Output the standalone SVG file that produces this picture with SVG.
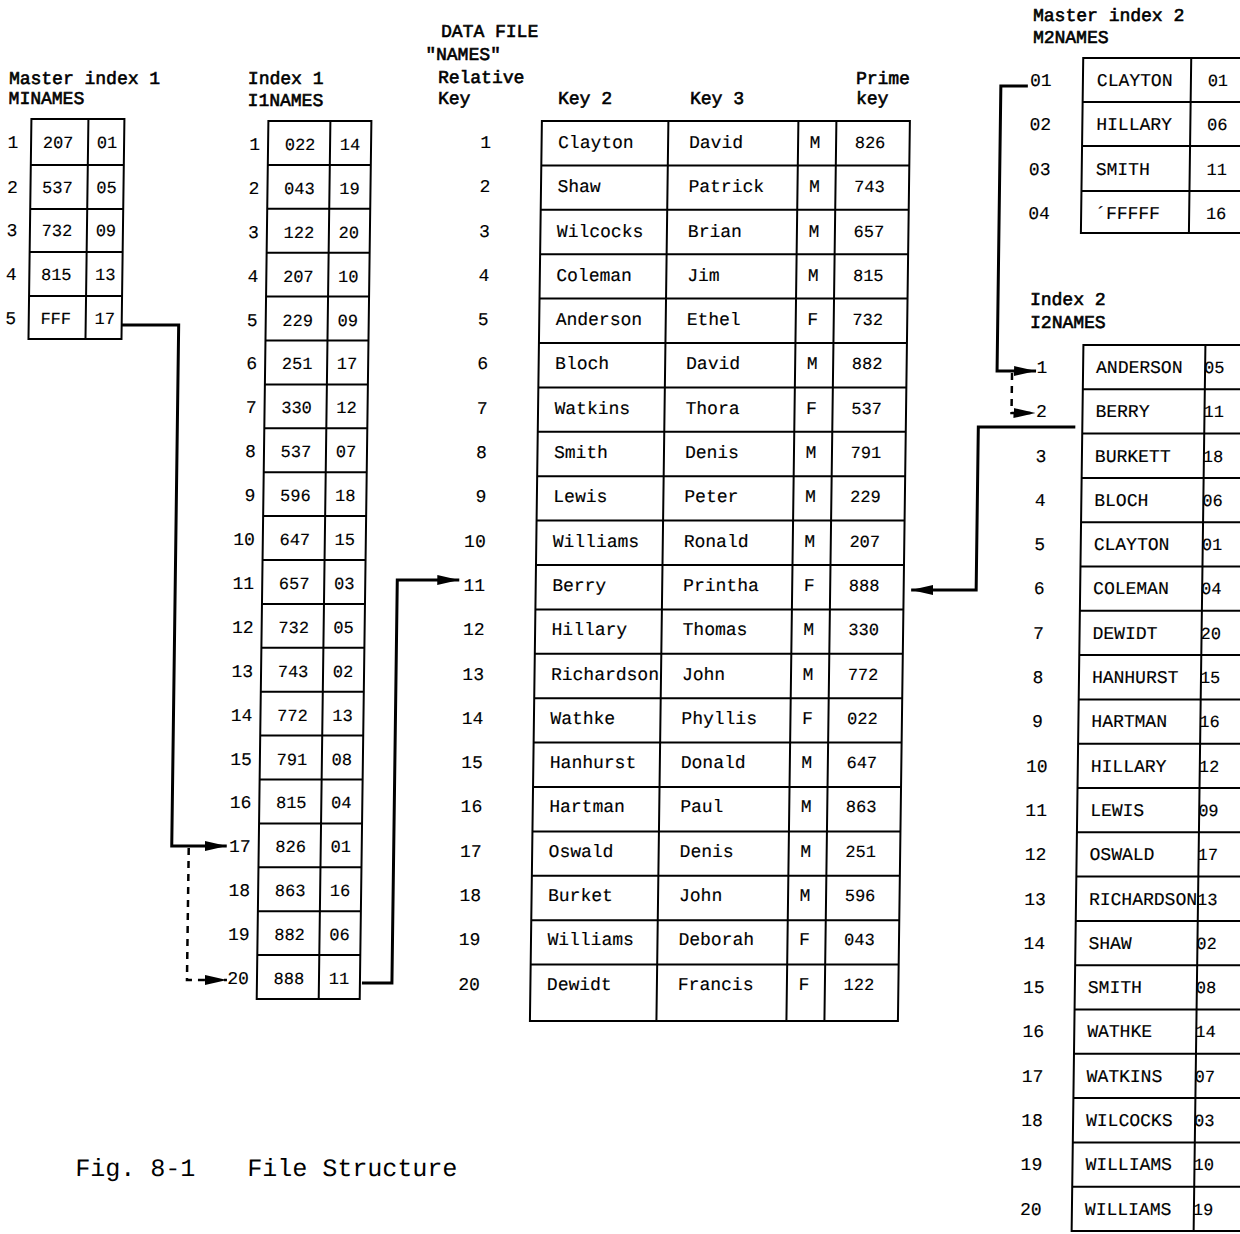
<svg xmlns="http://www.w3.org/2000/svg" width="1240" height="1234" viewBox="0 0 1240 1234">
<style>
text{font-family:"Liberation Mono","Courier New",monospace;font-size:18px;fill:#000;stroke:#000;stroke-width:0.15}
.h{stroke-width:0.6}
.n{font-size:17px}
.c{text-anchor:middle}
.r{text-anchor:end}
.cap{font-size:25px;stroke-width:0}
.box{fill:none;stroke:#000;stroke-width:2}
.conn{fill:none;stroke:#000;stroke-width:3}
.dash{fill:none;stroke:#000;stroke-width:2.5;stroke-dasharray:7 6}
</style>
<defs>
<marker id="ah" viewBox="0 0 22 12" refX="22" refY="6" markerWidth="22" markerHeight="12" markerUnits="userSpaceOnUse" orient="auto">
<path d="M0,1 L22,6 L0,11 z" fill="#000"/>
</marker>
</defs>
<rect width="1240" height="1234" fill="#fff"/>
<g transform="skewX(-0.762)">

<g id="master-index-1">
<text class="h" x="10" y="84">Master index 1</text>
<text class="h" x="10" y="104">MINAMES</text>
<rect class="box" x="33" y="119" width="93" height="220"/>
<path class="box" d="M90,119V339M33,165H126M33,209H126M33,252H126M33,296H126"/>
<text class="c" x="15" y="148">1</text><text class="c n" x="60" y="148">207</text><text class="c n" x="109" y="148">01</text>
<text class="c" x="15" y="193">2</text><text class="c n" x="60" y="193">537</text><text class="c n" x="109" y="193">05</text>
<text class="c" x="15" y="236">3</text><text class="c n" x="60" y="236">732</text><text class="c n" x="109" y="236">09</text>
<text class="c" x="15" y="280">4</text><text class="c n" x="60" y="280">815</text><text class="c n" x="109" y="280">13</text>
<text class="c" x="15" y="324">5</text><text class="c n" x="60" y="324">FFF</text><text class="c n" x="109" y="324">17</text>
</g>

<g id="index-1">
<text class="h" x="249" y="84">Index 1</text>
<text class="h" x="249" y="106">I1NAMES</text>
<rect class="box" x="270" y="121" width="103" height="878"/>
<path class="box" d="M332,121V999M270,164.9H373M270,208.8H373M270,252.7H373M270,296.6H373M270,340.5H373M270,384.4H373M270,428.3H373M270,472.2H373M270,516.1H373M270,560H373M270,603.9H373M270,647.8H373M270,691.7H373M270,735.6H373M270,779.5H373M270,823.4H373M270,867.3H373M270,911.2H373M270,955.1H373"/>
<text class="r" x="262" y="150">1</text><text class="c n" x="302" y="150">022</text><text class="c n" x="352" y="150">14</text>
<text class="r" x="262" y="193.9">2</text><text class="c n" x="302" y="193.9">043</text><text class="c n" x="352" y="193.9">19</text>
<text class="r" x="262" y="237.8">3</text><text class="c n" x="302" y="237.8">122</text><text class="c n" x="352" y="237.8">20</text>
<text class="r" x="262" y="281.7">4</text><text class="c n" x="302" y="281.7">207</text><text class="c n" x="352" y="281.7">10</text>
<text class="r" x="262" y="325.6">5</text><text class="c n" x="302" y="325.6">229</text><text class="c n" x="352" y="325.6">09</text>
<text class="r" x="262" y="369.5">6</text><text class="c n" x="302" y="369.5">251</text><text class="c n" x="352" y="369.5">17</text>
<text class="r" x="262" y="413.4">7</text><text class="c n" x="302" y="413.4">330</text><text class="c n" x="352" y="413.4">12</text>
<text class="r" x="262" y="457.3">8</text><text class="c n" x="302" y="457.3">537</text><text class="c n" x="352" y="457.3">07</text>
<text class="r" x="262" y="501.2">9</text><text class="c n" x="302" y="501.2">596</text><text class="c n" x="352" y="501.2">18</text>
<text class="r" x="262" y="545.1">10</text><text class="c n" x="302" y="545.1">647</text><text class="c n" x="352" y="545.1">15</text>
<text class="r" x="262" y="589">11</text><text class="c n" x="302" y="589">657</text><text class="c n" x="352" y="589">03</text>
<text class="r" x="262" y="632.9">12</text><text class="c n" x="302" y="632.9">732</text><text class="c n" x="352" y="632.9">05</text>
<text class="r" x="262" y="676.8">13</text><text class="c n" x="302" y="676.8">743</text><text class="c n" x="352" y="676.8">02</text>
<text class="r" x="262" y="720.7">14</text><text class="c n" x="302" y="720.7">772</text><text class="c n" x="352" y="720.7">13</text>
<text class="r" x="262" y="764.6">15</text><text class="c n" x="302" y="764.6">791</text><text class="c n" x="352" y="764.6">08</text>
<text class="r" x="262" y="808.5">16</text><text class="c n" x="302" y="808.5">815</text><text class="c n" x="352" y="808.5">04</text>
<text class="r" x="262" y="852.4">17</text><text class="c n" x="302" y="852.4">826</text><text class="c n" x="352" y="852.4">01</text>
<text class="r" x="262" y="896.3">18</text><text class="c n" x="302" y="896.3">863</text><text class="c n" x="352" y="896.3">16</text>
<text class="r" x="262" y="940.2">19</text><text class="c n" x="302" y="940.2">882</text><text class="c n" x="352" y="940.2">06</text>
<text class="r" x="262" y="984.1">20</text><text class="c n" x="302" y="984.1">888</text><text class="c n" x="352" y="984.1">11</text>
</g>

<g id="data-file-names">
<text class="h" x="441.5" y="37">DATA FILE</text>
<text class="h" x="426" y="60">"NAMES"</text>
<text class="h" x="439" y="83">Relative</text>
<text class="h" x="439.4" y="104">Key</text>
<text class="h" x="559.4" y="104">Key 2</text>
<text class="h" x="691.4" y="104">Key 3</text>
<text class="h" x="857" y="84">Prime</text>
<text class="h" x="857.4" y="104">key</text>
<rect class="box" x="543.5" y="121" width="368" height="900"/>
<path class="box" d="M670,121V1021M800,121V1021M838,121V1021M543.5,165.4H911.5M543.5,209.8H911.5M543.5,254.2H911.5M543.5,298.6H911.5M543.5,343H911.5M543.5,387.4H911.5M543.5,431.8H911.5M543.5,476.2H911.5M543.5,520.6H911.5M543.5,565H911.5M543.5,609.4H911.5M543.5,653.8H911.5M543.5,698.2H911.5M543.5,742.6H911.5M543.5,787H911.5M543.5,831.4H911.5M543.5,875.8H911.5M543.5,920.2H911.5M543.5,964.6H911.5"/>
<text class="r" x="493" y="148">1</text><text x="560" y="148">Clayton</text><text x="691" y="148">David</text><text class="c" x="817" y="148">M</text><text class="c n" x="872" y="148">826</text>
<text class="r" x="493" y="192.3">2</text><text x="560" y="192.3">Shaw</text><text x="691" y="192.3">Patrick</text><text class="c" x="817" y="192.3">M</text><text class="c n" x="872" y="192.3">743</text>
<text class="r" x="493" y="236.6">3</text><text x="560" y="236.6">Wilcocks</text><text x="691" y="236.6">Brian</text><text class="c" x="817" y="236.6">M</text><text class="c n" x="872" y="236.6">657</text>
<text class="r" x="493" y="280.9">4</text><text x="560" y="280.9">Coleman</text><text x="691" y="280.9">Jim</text><text class="c" x="817" y="280.9">M</text><text class="c n" x="872" y="280.9">815</text>
<text class="r" x="493" y="325.2">5</text><text x="560" y="325.2">Anderson</text><text x="691" y="325.2">Ethel</text><text class="c" x="817" y="325.2">F</text><text class="c n" x="872" y="325.2">732</text>
<text class="r" x="493" y="369.5">6</text><text x="560" y="369.5">Bloch</text><text x="691" y="369.5">David</text><text class="c" x="817" y="369.5">M</text><text class="c n" x="872" y="369.5">882</text>
<text class="r" x="493" y="413.8">7</text><text x="560" y="413.8">Watkins</text><text x="691" y="413.8">Thora</text><text class="c" x="817" y="413.8">F</text><text class="c n" x="872" y="413.8">537</text>
<text class="r" x="493" y="458.1">8</text><text x="560" y="458.1">Smith</text><text x="691" y="458.1">Denis</text><text class="c" x="817" y="458.1">M</text><text class="c n" x="872" y="458.1">791</text>
<text class="r" x="493" y="502.4">9</text><text x="560" y="502.4">Lewis</text><text x="691" y="502.4">Peter</text><text class="c" x="817" y="502.4">M</text><text class="c n" x="872" y="502.4">229</text>
<text class="r" x="493" y="546.7">10</text><text x="560" y="546.7">Williams</text><text x="691" y="546.7">Ronald</text><text class="c" x="817" y="546.7">M</text><text class="c n" x="872" y="546.7">207</text>
<text class="r" x="493" y="591">11</text><text x="560" y="591">Berry</text><text x="691" y="591">Printha</text><text class="c" x="817" y="591">F</text><text class="c n" x="872" y="591">888</text>
<text class="r" x="493" y="635.3">12</text><text x="560" y="635.3">Hillary</text><text x="691" y="635.3">Thomas</text><text class="c" x="817" y="635.3">M</text><text class="c n" x="872" y="635.3">330</text>
<text class="r" x="493" y="679.6">13</text><text x="560" y="679.6">Richardson</text><text x="691" y="679.6">John</text><text class="c" x="817" y="679.6">M</text><text class="c n" x="872" y="679.6">772</text>
<text class="r" x="493" y="723.9">14</text><text x="560" y="723.9">Wathke</text><text x="691" y="723.9">Phyllis</text><text class="c" x="817" y="723.9">F</text><text class="c n" x="872" y="723.9">022</text>
<text class="r" x="493" y="768.2">15</text><text x="560" y="768.2">Hanhurst</text><text x="691" y="768.2">Donald</text><text class="c" x="817" y="768.2">M</text><text class="c n" x="872" y="768.2">647</text>
<text class="r" x="493" y="812.5">16</text><text x="560" y="812.5">Hartman</text><text x="691" y="812.5">Paul</text><text class="c" x="817" y="812.5">M</text><text class="c n" x="872" y="812.5">863</text>
<text class="r" x="493" y="856.8">17</text><text x="560" y="856.8">Oswald</text><text x="691" y="856.8">Denis</text><text class="c" x="817" y="856.8">M</text><text class="c n" x="872" y="856.8">251</text>
<text class="r" x="493" y="901.1">18</text><text x="560" y="901.1">Burket</text><text x="691" y="901.1">John</text><text class="c" x="817" y="901.1">M</text><text class="c n" x="872" y="901.1">596</text>
<text class="r" x="493" y="945.4">19</text><text x="560" y="945.4">Williams</text><text x="691" y="945.4">Deborah</text><text class="c" x="817" y="945.4">F</text><text class="c n" x="872" y="945.4">043</text>
<text class="r" x="493" y="989.7">20</text><text x="560" y="989.7">Dewidt</text><text x="691" y="989.7">Francis</text><text class="c" x="817" y="989.7">F</text><text class="c n" x="872" y="989.7">122</text>
</g>

<g id="master-index-2">
<text class="h" x="1033.3" y="21">Master index 2</text>
<text class="h" x="1033.5" y="43">M2NAMES</text>
<rect class="box" x="1084" y="58" width="180" height="175"/>
<path class="box" d="M1192,58V233M1084,102H1264M1084,146H1264M1084,191H1264"/>
<text class="c" x="1042" y="86">01</text><text x="1098" y="86">CLAYTON</text><text class="c n" x="1219" y="86">01</text>
<text class="c" x="1042" y="130">02</text><text x="1098" y="130">HILLARY</text><text class="c n" x="1219" y="130">06</text>
<text class="c" x="1042" y="175">03</text><text x="1098" y="175">SMITH</text><text class="c n" x="1219" y="175">11</text>
<text class="c" x="1042" y="219">04</text><text x="1098" y="219">´FFFFF</text><text class="c n" x="1219" y="219">16</text>
</g>

<g id="index-2">
<text class="h" x="1034" y="305">Index 2</text>
<text class="h" x="1034.4" y="328">I2NAMES</text>
<rect class="box" x="1088" y="345" width="170" height="886"/>
<path class="box" d="M1210,345V1231M1088,389.3H1258M1088,433.6H1258M1088,477.9H1258M1088,522.2H1258M1088,566.5H1258M1088,610.8H1258M1088,655.1H1258M1088,699.4H1258M1088,743.7H1258M1088,788H1258M1088,832.3H1258M1088,876.6H1258M1088,920.9H1258M1088,965.2H1258M1088,1009.5H1258M1088,1053.8H1258M1088,1098.1H1258M1088,1142.4H1258M1088,1186.7H1258"/>
<text class="c" x="1047" y="373">1</text><text x="1101" y="373">ANDERSON</text><text class="n" x="1209" y="373">05</text>
<text class="c" x="1047" y="417.3">2</text><text x="1101" y="417.3">BERRY</text><text class="n" x="1209" y="417.3">11</text>
<text class="c" x="1047" y="461.6">3</text><text x="1101" y="461.6">BURKETT</text><text class="n" x="1209" y="461.6">18</text>
<text class="c" x="1047" y="505.9">4</text><text x="1101" y="505.9">BLOCH</text><text class="n" x="1209" y="505.9">06</text>
<text class="c" x="1047" y="550.2">5</text><text x="1101" y="550.2">CLAYTON</text><text class="n" x="1209" y="550.2">01</text>
<text class="c" x="1047" y="594.5">6</text><text x="1101" y="594.5">COLEMAN</text><text class="n" x="1209" y="594.5">04</text>
<text class="c" x="1047" y="638.8">7</text><text x="1101" y="638.8">DEWIDT</text><text class="n" x="1209" y="638.8">20</text>
<text class="c" x="1047" y="683.1">8</text><text x="1101" y="683.1">HANHURST</text><text class="n" x="1209" y="683.1">15</text>
<text class="c" x="1047" y="727.4">9</text><text x="1101" y="727.4">HARTMAN</text><text class="n" x="1209" y="727.4">16</text>
<text class="c" x="1047" y="771.7">10</text><text x="1101" y="771.7">HILLARY</text><text class="n" x="1209" y="771.7">12</text>
<text class="c" x="1047" y="816">11</text><text x="1101" y="816">LEWIS</text><text class="n" x="1209" y="816">09</text>
<text class="c" x="1047" y="860.3">12</text><text x="1101" y="860.3">OSWALD</text><text class="n" x="1209" y="860.3">17</text>
<text class="c" x="1047" y="904.6">13</text><text x="1101" y="904.6">RICHARDSON</text><text class="n" x="1209" y="904.6">13</text>
<text class="c" x="1047" y="948.9">14</text><text x="1101" y="948.9">SHAW</text><text class="n" x="1209" y="948.9">02</text>
<text class="c" x="1047" y="993.2">15</text><text x="1101" y="993.2">SMITH</text><text class="n" x="1209" y="993.2">08</text>
<text class="c" x="1047" y="1037.5">16</text><text x="1101" y="1037.5">WATHKE</text><text class="n" x="1209" y="1037.5">14</text>
<text class="c" x="1047" y="1081.8">17</text><text x="1101" y="1081.8">WATKINS</text><text class="n" x="1209" y="1081.8">07</text>
<text class="c" x="1047" y="1126.1">18</text><text x="1101" y="1126.1">WILCOCKS</text><text class="n" x="1209" y="1126.1">03</text>
<text class="c" x="1047" y="1170.4">19</text><text x="1101" y="1170.4">WILLIAMS</text><text class="n" x="1209" y="1170.4">10</text>
<text class="c" x="1047" y="1214.7">20</text><text x="1101" y="1214.7">WILLIAMS</text><text class="n" x="1209" y="1214.7">19</text>
</g>

<g id="connectors">
<path class="conn" d="M126,325H183V846H238" marker-end="url(#ah)"/>
<path class="dash" d="M200,848V980H240" marker-end="url(#ah)"/>
<path class="conn" d="M375,983H405V580H467" marker-end="url(#ah)"/>
<path class="conn" d="M1029,86H1002V371H1041" marker-end="url(#ah)"/>
<path class="dash" d="M1017,373V413H1041" marker-end="url(#ah)"/>
<path class="conn" d="M1081,427H984V590H919" marker-end="url(#ah)"/>
</g>

<g id="caption">
<text class="cap" x="91" y="1176">Fig. 8-1</text>
<text class="cap" x="263" y="1176">File Structure</text>
</g>
</g>
</svg>
